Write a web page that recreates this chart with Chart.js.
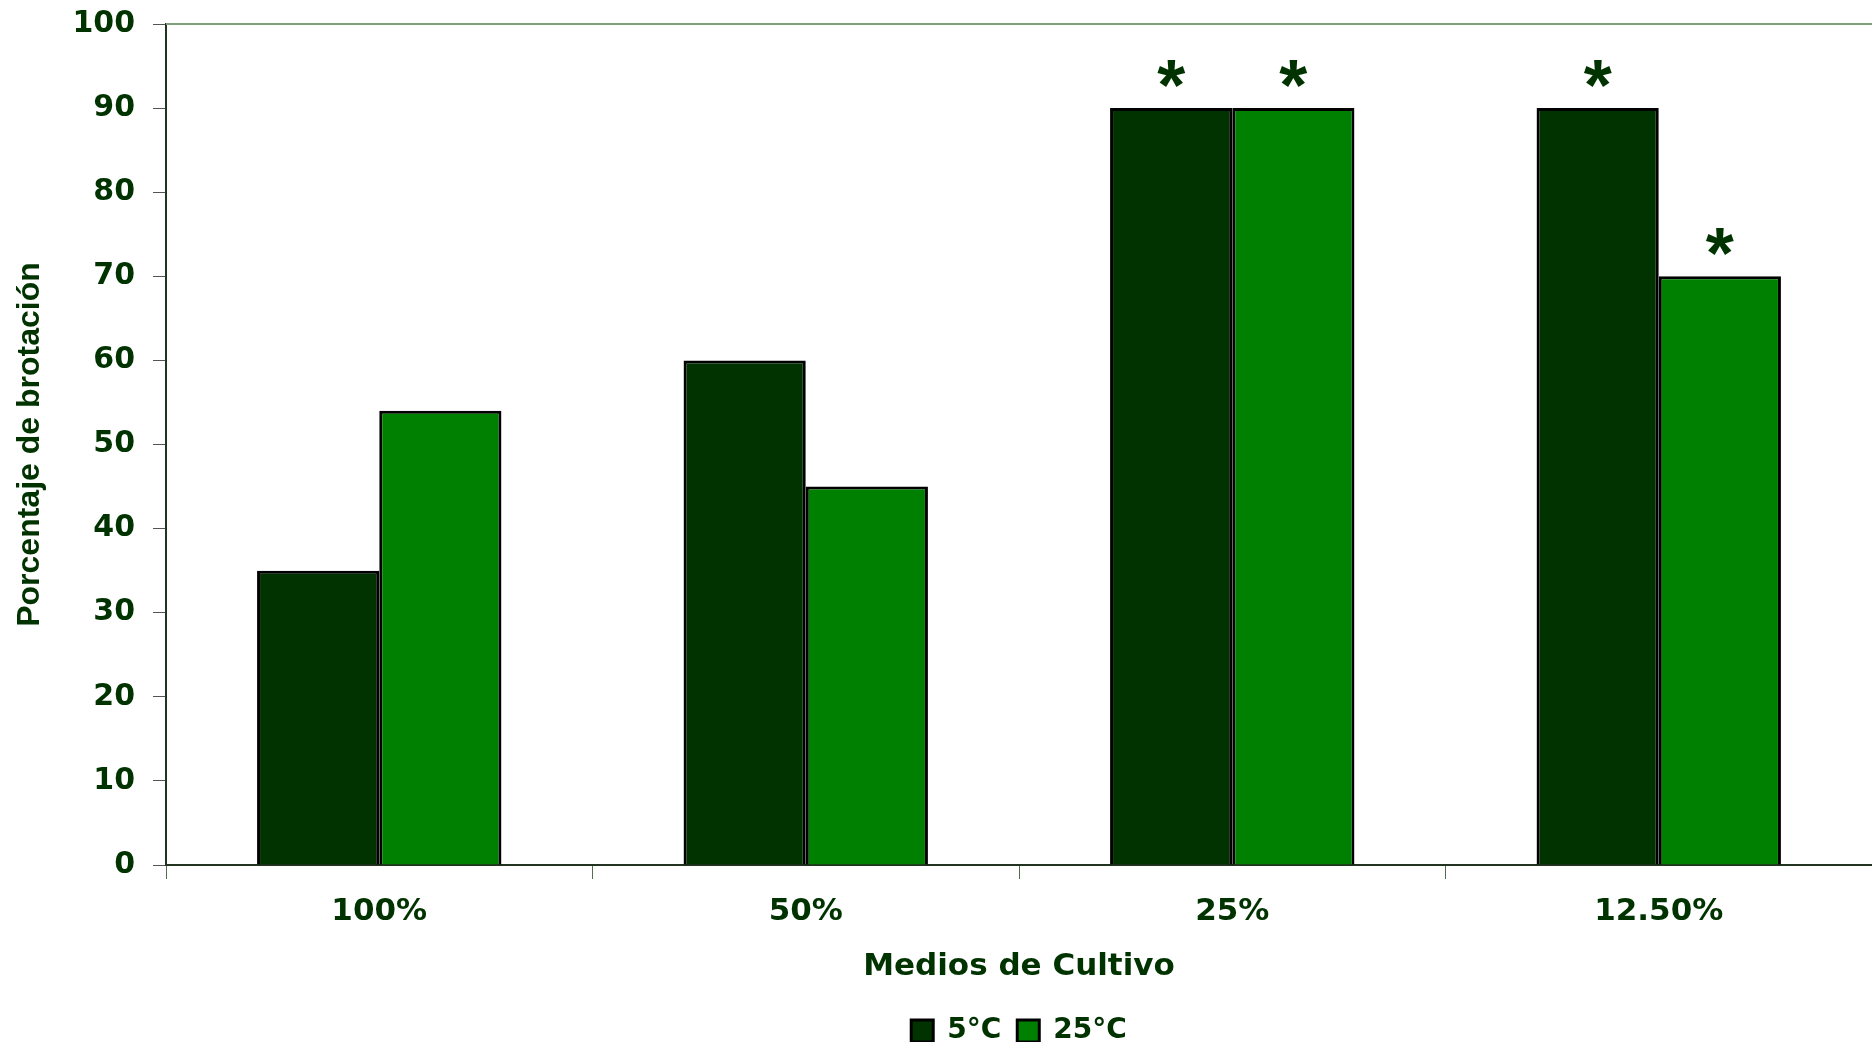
<!DOCTYPE html>
<html>
<head>
<meta charset="utf-8">
<title>Porcentaje de brotación</title>
<script src="https://cdn.jsdelivr.net/npm/chart.js@4.4.1/dist/chart.umd.min.js"></script>
<style>
  html, body { margin: 0; padding: 0; background: #ffffff; }
  #wrap { width: 1872px; height: 1042px; }
</style>
</head>
<body>
<div id="wrap"><canvas id="chart" width="1872" height="1042"></canvas></div>
<script>
// data
const categories = ['100%', '50%', '25%', '12.50%'];
const temp5 = [35, 60, 90, 90];
const temp25 = [54, 45, 90, 70];
// significance marks (asterisks) per series
const mark5 = [false, false, true, true];
const mark25 = [false, false, true, true];
const yTicks = [0, 10, 20, 30, 40, 50, 60, 70, 80, 90, 100];

const textColor = '#003300';
const mainFont = '"DejaVu Sans", "Liberation Sans", Arial, sans-serif';

// draws the asterisks above bars and the top frame line
const extras = {
    id: 'extras',
    afterDatasetsDraw(chart) {
        const ctx = chart.ctx;
        const area = chart.chartArea;
        ctx.save();
        ctx.strokeStyle = '#7f9f7f';
        ctx.lineWidth = 2;
        ctx.beginPath();
        ctx.moveTo(area.left, area.top);
        ctx.lineTo(chart.width, area.top);
        ctx.stroke();

        ctx.fillStyle = textColor;
        ctx.font = 'bold 72px "Liberation Sans", Arial, sans-serif';
        ctx.textAlign = 'center';
        ctx.textBaseline = 'middle';
        [mark5, mark25].forEach((marks, di) => {
            const meta = chart.getDatasetMeta(di);
            marks.forEach((on, i) => {
                if (!on) return;
                const bar = meta.data[i];
                ctx.fillText('*', bar.x, bar.y - 18);
            });
        });
        ctx.restore();
    }
};

const ctx = document.getElementById('chart').getContext('2d');
const chart = new Chart(ctx, {
    type: 'bar',
    data: {
        labels: categories,
        datasets: [{
            label: '5°C',
            data: temp5,
            backgroundColor: '#003300',
            borderColor: '#000000',
            borderWidth: 3
        }, {
            label: '25°C',
            data: temp25,
            backgroundColor: '#008000',
            borderColor: '#000000',
            borderWidth: 3
        }]
    },
    options: {
        responsive: false,
        animation: false,
        layout: {
            padding: { top: 24, right: 0, left: 0, bottom: -13 }
        },
        datasets: {
            bar: { barPercentage: 1.0, categoryPercentage: 0.573 }
        },
        plugins: {
            legend: {
                position: 'bottom',
                fullSize: false,
                labels: {
                    color: textColor,
                    boxWidth: 22,
                    boxHeight: 22,
                    padding: 16,
                    font: { family: mainFont, size: 28, weight: 'bold' }
                }
            },
            tooltip: { enabled: false }
        },
        scales: {
            x: {
                afterFit(scale) {
                    scale.height = 136;
                },
                grid: {
                    display: true,
                    drawOnChartArea: false,
                    drawTicks: true,
                    tickLength: 14,
                    color: '#4f6f4f',
                    offset: true
                },
                border: { color: '#223322', width: 2 },
                ticks: {
                    color: textColor,
                    padding: 14,
                    font: { family: mainFont, size: 31, weight: 'bold' }
                },
                title: {
                    display: true,
                    text: 'Medios de Cultivo',
                    color: textColor,
                    padding: { top: 20, bottom: 15 },
                    font: { family: mainFont, size: 31, weight: 'bold' }
                }
            },
            y: {
                min: 0,
                max: 100,
                afterFit(scale) {
                    scale.width = 166;
                    scale.paddingTop = 0;
                    scale.paddingBottom = 0;
                },
                afterBuildTicks(scale) {
                    scale.ticks = yTicks.map(v => ({ value: v }));
                },
                grid: {
                    display: true,
                    drawOnChartArea: false,
                    drawTicks: true,
                    tickLength: 13,
                    color: '#555555'
                },
                border: { color: '#223322', width: 2 },
                ticks: {
                    color: textColor,
                    padding: 18,
                    font: { family: mainFont, size: 30, weight: 'bold' }
                },
                title: {
                    display: true,
                    text: 'Porcentaje de brotación',
                    color: textColor,
                    padding: { top: 11, bottom: 0 },
                    font: { family: '"Liberation Sans Narrow", "Liberation Sans", Arial, sans-serif', size: 32, weight: 'bold' }
                }
            }
        }
    },
    plugins: [extras]
});
</script>
</body>
</html>
